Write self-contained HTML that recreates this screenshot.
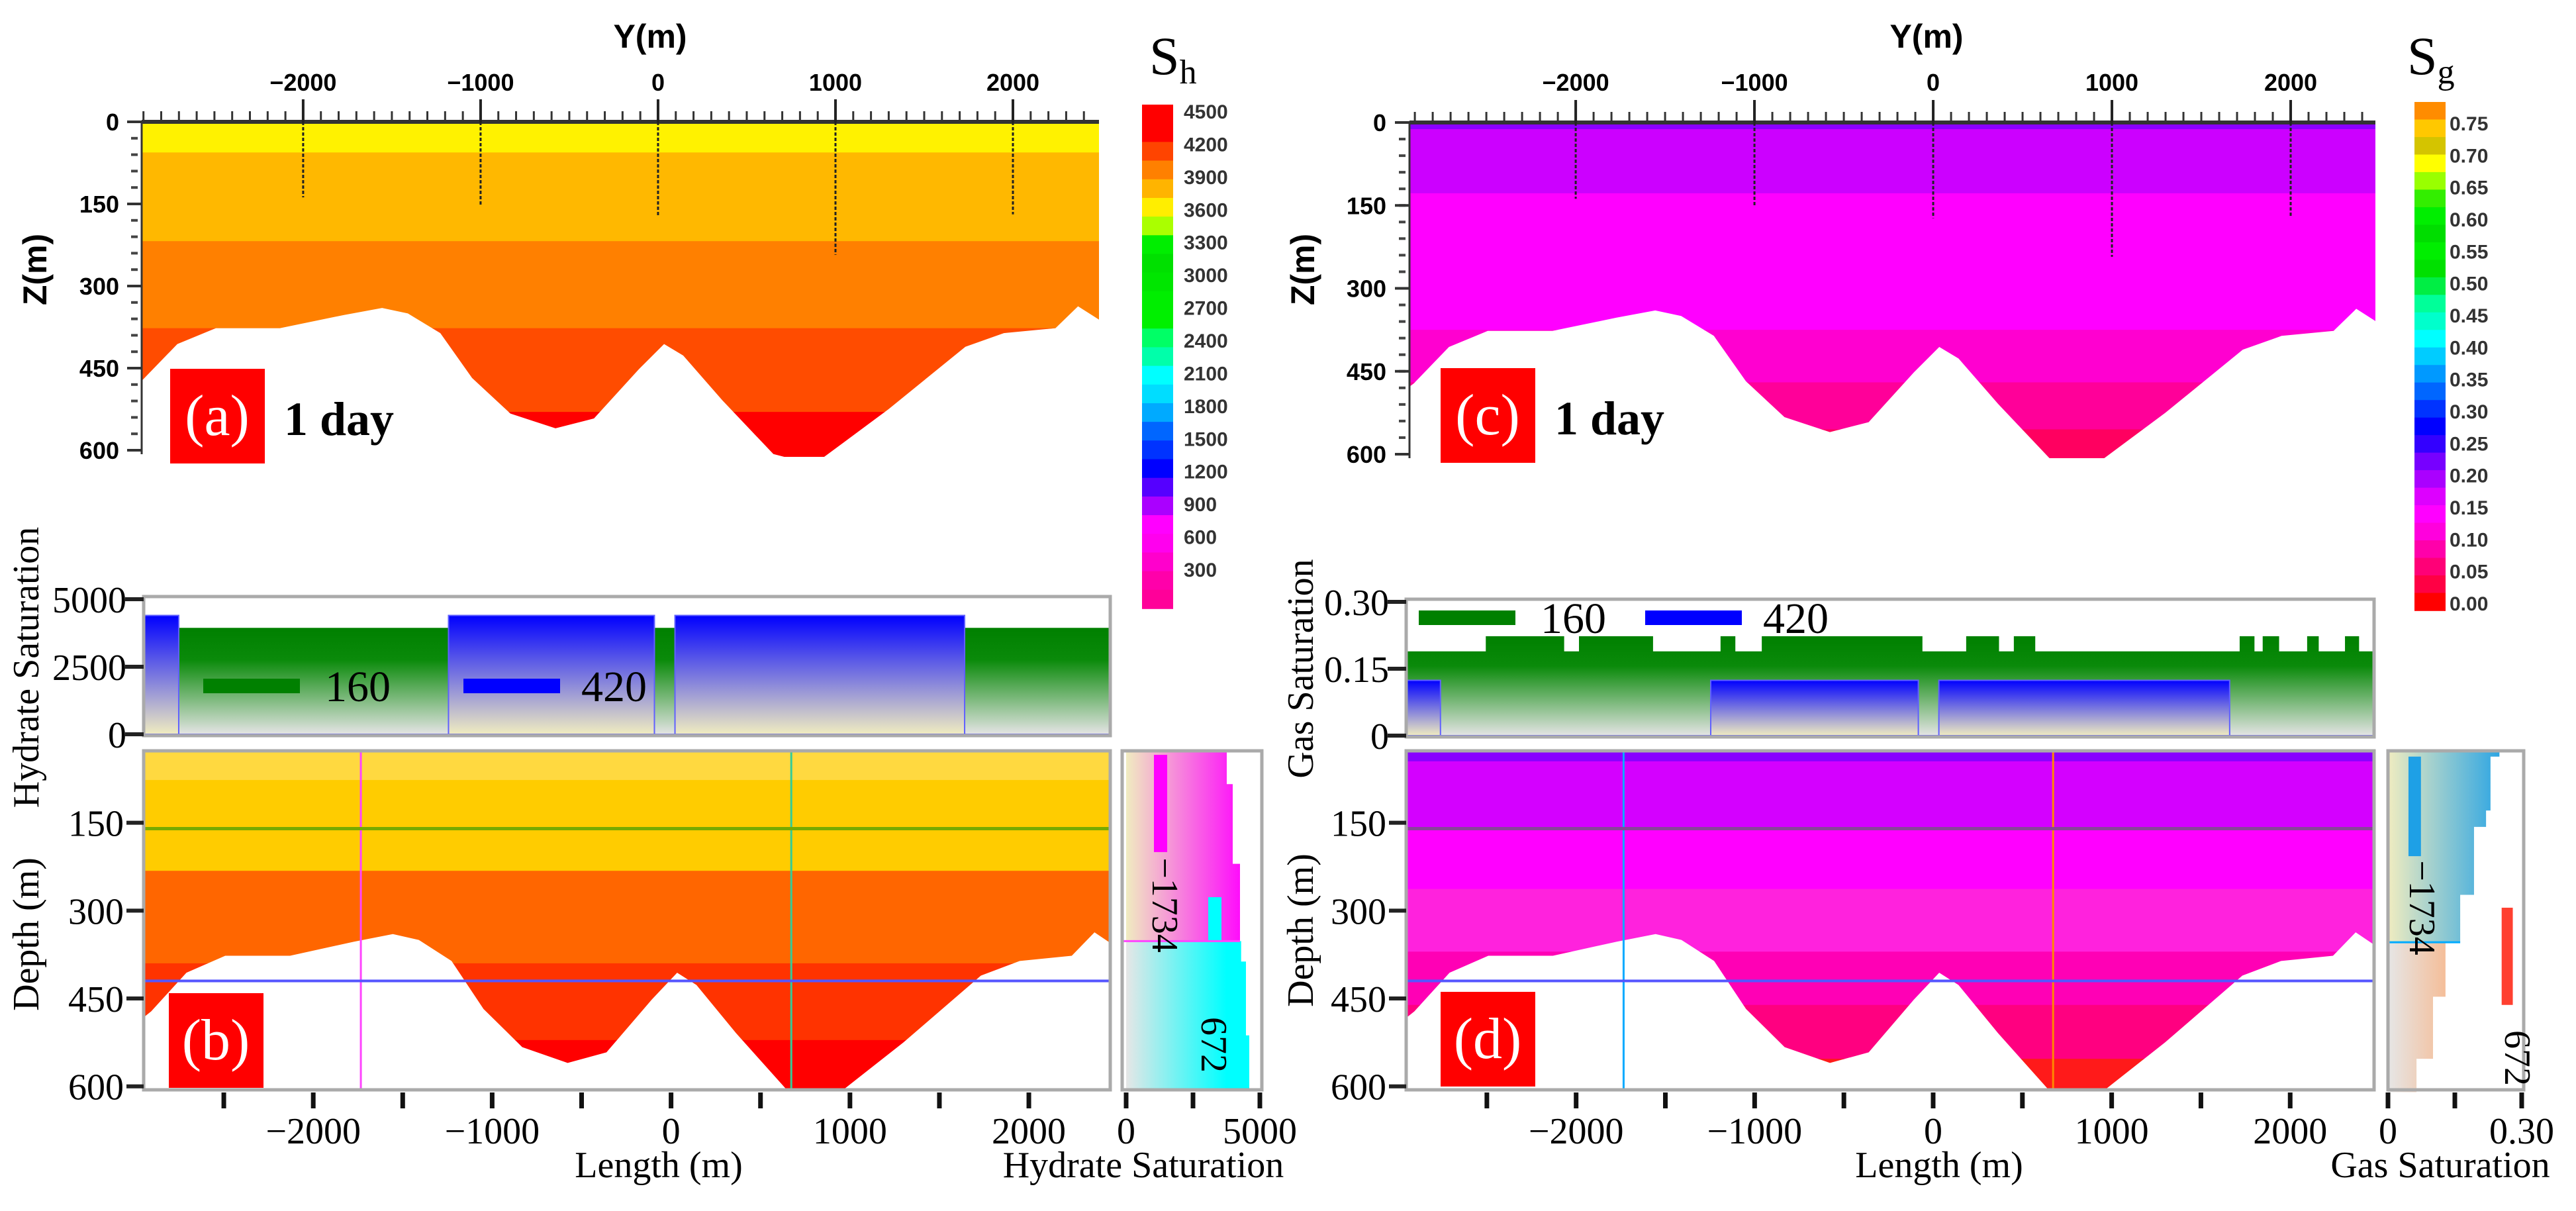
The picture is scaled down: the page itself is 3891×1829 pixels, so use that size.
<!DOCTYPE html>
<html><head><meta charset="utf-8"><style>
html,body{margin:0;padding:0;background:#fff;}
svg{display:block;}
.sb{font-family:"Liberation Sans",sans-serif;font-weight:bold;}
.sf{font-family:"Liberation Serif",serif;}
</style></head><body>
<svg id="fig" width="3891" height="1829" viewBox="0 0 3891 1829" xmlns="http://www.w3.org/2000/svg">
<defs id="defs">
 <linearGradient id="gGreen" x1="0" y1="0" x2="0" y2="1"><stop offset="0" stop-color="#008000"/><stop offset="0.3" stop-color="#0a8a0a"/><stop offset="1" stop-color="#e4e4e4"/></linearGradient>
 <linearGradient id="gBlue" x1="0" y1="0" x2="0" y2="1"><stop offset="0" stop-color="#0000ff"/><stop offset="1" stop-color="#f0ecc0"/></linearGradient>
</defs>
<text class="sb" x="982" y="72" font-size="50" text-anchor="middle">Y(m)</text>
<text class="sb" transform="translate(70,407) rotate(-90)" font-size="50" text-anchor="middle">Z(m)</text>
<text class="sf" x="1736" y="112" font-size="82">S<tspan font-size="52" dy="14">h</tspan></text>
<text class="sb" x="2910" y="72" font-size="50" text-anchor="middle">Y(m)</text>
<text class="sb" transform="translate(1985,407) rotate(-90)" font-size="50" text-anchor="middle">Z(m)</text>
<text class="sf" x="3636" y="112" font-size="82">S<tspan font-size="52" dy="14">g</tspan></text>
<text class="sf" transform="translate(58,1008) rotate(-90)" font-size="56" text-anchor="middle">Hydrate Saturation</text>
<text class="sf" transform="translate(58,1411) rotate(-90)" font-size="56" text-anchor="middle">Depth (m)</text>
<text class="sf" x="995" y="1778" font-size="56" text-anchor="middle">Length (m)</text>
<text class="sf" x="1727" y="1778" font-size="56" text-anchor="middle">Hydrate Saturation</text>
<text class="sf" transform="translate(1983,1010) rotate(-90)" font-size="56" text-anchor="middle">Gas Saturation</text>
<text class="sf" transform="translate(1983,1405) rotate(-90)" font-size="56" text-anchor="middle">Depth (m)</text>
<text class="sf" x="2929" y="1778" font-size="56" text-anchor="middle">Length (m)</text>
<text class="sf" x="3686" y="1778" font-size="56" text-anchor="middle">Gas Saturation</text>
</svg>
<script>
// ---------- data ----------
const terrainY = [-2980,-2906,-2709,-2492,-2130,-1772,-1555,-1410,-1227,-1048,-832,-578,-361,-108,34,142,363,650,795,937,1299,1732,1949,2240,2367,2527];
const terrainDepth = [490,472,406,377,377,353,340,350,386,468,533,560,542,452,406,427,509,607,619,612,525,411,386,377,337,370];
const wellY = [-2000,-1000,0,1000,2000];
const wellDepth = [138,152,173,243,169];
const topTicks = [-2000,-1000,0,1000,2000];
const depthTicks = [0,150,300,450,600];
const depthTicksB = [150,300,450,600];
const lengthTicks = [-2500,-2000,-1500,-1000,-500,0,500,1000,1500,2000];
const lengthLabels = [-2000,-1000,0,1000,2000];
const aBounds = [-50,56,218,377,530,700];
const bBounds = [-50,77,232,390,521,700];
const cBounds = [-50,12,128,375,470,555,700];
const dBounds = [-50,45,160,263,370,461,553,700];
const shLabels = [4500,4200,3900,3600,3300,3000,2700,2400,2100,1800,1500,1200,900,600,300];
const sgLabels = ["0.75","0.70","0.65","0.60","0.55","0.50","0.45","0.40","0.35","0.30","0.25","0.20","0.15","0.10","0.05","0.00"];
const hyd160X = [-2948,2455];
const hyd160V = [3940,3940];
const hyd420X = [-2948,-2752,-2752,-1244,-1244,-93,-93,22,22,1641,1641,2455];
const hyd420V = [4400,4400,0,0,4400,4400,0,0,4400,4400,0,0];
const gas160X = [-2952,-2506,-2506,-2067,-2067,-1984,-1984,-1569,-1569,-1191,-1191,-1108,-1108,-960,-960,-60,-60,185,185,369,369,452,452,572,572,1717,1717,1800,1800,1846,1846,1938,1938,2095,2095,2160,2160,2307,2307,2386,2386,2470];
const gas160V = [0.189,0.189,0.223,0.223,0.189,0.189,0.223,0.223,0.189,0.189,0.223,0.223,0.189,0.189,0.223,0.223,0.189,0.189,0.223,0.223,0.189,0.189,0.223,0.223,0.189,0.189,0.223,0.223,0.189,0.189,0.223,0.223,0.189,0.189,0.223,0.223,0.189,0.189,0.223,0.223,0.189,0.189];
const gas420X = [-2952,-2760,-2760,-1246,-1246,-83,-83,32,32,1661,1661,2470];
const gas420V = [0.124,0.124,0,0,0.124,0.124,0,0,0.124,0.124,0,0];
const hydM1734Depth = [27,84,220,352];
const hydM1734Val = [3762,3985,4257];
const hyd672Depth = [352,387,513,606];
const hyd672Val = [4300,4480,4604];
const gasM1734Depth = [27,37,129,157,273,354];
const gasM1734Val = [0.25,0.23,0.22,0.193,0.162];
const gas672Depth = [354,447,553,610];
const gas672Val = [0.129,0.101,0.064];

// ---------- helpers ----------
const NS="http://www.w3.org/2000/svg";
const svg=document.getElementById('fig');
const defs=document.getElementById('defs');
function mk(tag,attrs,parent){const e=document.createElementNS(NS,tag);for(const k in attrs)e.setAttribute(k,attrs[k]);(parent||svg).appendChild(e);return e;}
function lin(p0,p1,d0,d1){return v=>p0+(v-d0)/(d1-d0)*(p1-p0);}
function txt(x,y,s,size,cls,anchor,parent){const t=mk('text',{x:x,y:y,'font-size':size,class:cls,'text-anchor':anchor||'middle'},parent);t.textContent=s;return t;}
function hgrad(id,x0,x1,c0,c1){const g=mk('linearGradient',{id:id,gradientUnits:'userSpaceOnUse',x1:x0,y1:0,x2:x1,y2:0},defs);mk('stop',{offset:0,'stop-color':c0},g);mk('stop',{offset:1,'stop-color':c1},g);}

function contour(id,X,D,x0,x1,top,bottom,domMin,domMax,bounds,colors){
  const cp=mk('clipPath',{id:'clip'+id},defs);
  let pts=[[X(domMin)-20,top],[X(domMax)+20,top]];
  for(let i=terrainY.length-1;i>=0;i--)pts.push([X(terrainY[i]),D(terrainDepth[i])]);
  mk('polygon',{points:pts.map(p=>p.join(',')).join(' ')},cp);
  const cp2=mk('clipPath',{id:'rect'+id},defs);
  mk('rect',{x:x0,y:top,width:x1-x0,height:bottom-top},cp2);
  const outer=mk('g',{'clip-path':'url(#rect'+id+')'});
  
  
  const g=mk('g',{'clip-path':'url(#clip'+id+')'},outer);
  for(let i=0;i<colors.length;i++){
    const r=mk('rect',{x:x0,y:D(bounds[i]),width:x1-x0,height:D(bounds[i+1])-D(bounds[i])+1,fill:colors[i]},g);
    
    
  }
  return outer;
}
function colorbar(x,y0,y1,cols,labels,lblX,l0,l1,name){
  const h=(y1-y0)/cols.length;
  cols.forEach((c,i)=>{const r=mk('rect',{x:x,y:y0+i*h,width:47,height:h+0.8,fill:c});
    
    });
  const L=lin(l0,l1,0,labels.length-1);
  labels.forEach((s,i)=>{const t=txt(lblX,L(i)+10,s,30,'sb','start');t.setAttribute('fill','#333');
    
    });
}
function topAxis(X,D,x0,x1,axisY,domMin,domMax,lblRight,name){
  mk('line',{x1:x0,y1:axisY,x2:x1,y2:axisY,stroke:'#333','stroke-width':6});
  for(let v=-2900;v<=domMax;v+=100){const px=X(v);if(px<x0)continue;
    const l=mk('line',{x1:px,y1:axisY-16,x2:px,y2:axisY,stroke:'#333','stroke-width':3});
    
    }
  topTicks.forEach(v=>{const l=mk('line',{x1:X(v),y1:axisY-34,x2:X(v),y2:axisY,stroke:'#222','stroke-width':4});
    
    
    const t=txt(X(v),137,String(v).replace('-','\u2212'),36,'sb','middle');
    
    });
  wellY.forEach((v,i)=>{const l=mk('line',{x1:X(v),y1:axisY,x2:X(v),y2:D(wellDepth[i]),stroke:'#222','stroke-width':3,'stroke-dasharray':'5,3'});
    
    });
  mk('line',{x1:x0,y1:axisY,x2:x0,y2:D(600)+6,stroke:'#333','stroke-width':3});
  for(let d=0;d<=600;d+=30){const l=mk('line',{x1:x0-16,y1:D(d),x2:x0-6,y2:D(d),stroke:'#444','stroke-width':4});
    
    }
  depthTicks.forEach(d=>{mk('line',{x1:x0-22,y1:D(d),x2:x0,y2:D(d),stroke:'#333','stroke-width':4});
    const t=txt(lblRight,D(d)+13,String(d),36,'sb','end');
    
    });
}
function labelBox(x,y,letter,withDay){
  const r=mk('rect',{x:x,y:y,width:143,height:143,fill:'#ff0000'});
  
  
  const t=txt(x+71,y+100,'('+letter+')',88,'sf','middle');t.setAttribute('fill','#fff');
  
  
  if(withDay){const d=txt(x+172,y+100,'1 day',72,'sf','start');d.setAttribute('font-weight','bold');
    
    }
}
function stepArea(X,V,xs,vs,fill,stroke,name){
  let pts=[[X(xs[0]),V(0)]];
  xs.forEach((x,i)=>pts.push([X(x),V(vs[i])]));
  pts.push([X(xs[xs.length-1]),V(0)]);
  const p=mk('polygon',{points:pts.map(p=>p.join(',')).join(' '),fill:fill,stroke:stroke,'stroke-width':2});
  
  
}
function profile(V,D,depths,vals,fill,name){
  let pts=[[V(0),D(depths[0])]];
  vals.forEach((v,i)=>{pts.push([V(v),D(depths[i])]);pts.push([V(v),D(depths[i+1])]);});
  pts.push([V(0),D(depths[depths.length-1])]);
  const p=mk('polygon',{points:pts.map(p=>p.join(',')).join(' '),fill:fill});
  
  
}
function frame(x,y,w,h,name){const r=mk('rect',{x:x,y:y,width:w,height:h,fill:'none',stroke:'#aaa','stroke-width':5});
  
  }
function hline(x0,x1,y,c,w,name){const l=mk('line',{x1:x0,y1:y,x2:x1,y2:y,stroke:c,'stroke-width':w});
  
  }
function vline(x,y0,y1,c,w,name){const l=mk('line',{x1:x,y1:y0,x2:x,y2:y1,stroke:c,'stroke-width':w});
  
  }

{const X=lin(214,1660,-2910,2485),D=lin(184,680,0,600);
 contour('a',X,D,214,1660,184,690,-2910,2485,aBounds,['#FFF200','#FFB800','#FF8000','#FF4C00','#FF0000']);
 topAxis(X,D,214,1660,184,-2910,2485,180,'a');
 labelBox(257,557,'a',true);}
colorbar(1725,158,919,['#FF0000','#FF0000','#FF4400','#FF8000','#FFB400','#FFEE00','#AAFF00','#00EE00','#00E000','#00E600','#00EE00','#00F000','#00FF66','#00FFAA','#00FFFF','#00DDFF','#00AAFF','#0066FF','#0033FF','#0000FF','#5500FF','#AA00FF','#FF00FF','#FF00EE','#FF00CC','#FF00AA','#FF0099'],shLabels,1788,169,861,'sh-colorbar');
{const X=lin(2129,3588,-2930,2474),D=lin(185,686,0,600);
 contour('c',X,D,2129,3588,185,692,-2930,2474,cBounds,['#8A00FF','#CC00FF','#FF00FF','#FF00D0','#FF0099','#FF0060']);
 topAxis(X,D,2129,3588,185,-2930,2474,2094,'c');
 labelBox(2176,556,'c',true);}
colorbar(3647,154,922,['#FF8C00','#FFC800','#D4C400','#FFFF00','#99FF00','#33EE00','#00EE00','#00DD00','#00EE00','#00E000','#00EE44','#00FF99','#00FFCC','#00FFFF','#00CCFF','#0099FF','#0066FF','#0033FF','#0000FF','#3300FF','#7700FF','#AA00FF','#DD00FF','#FF00FF','#FF00DD','#FF00AA','#FF0077','#FF0044','#FF0000'],sgLabels,3700,187,912,'sg-colorbar');

function bottomSet(o){
  const X=lin(o.x0,o.x1,o.dMin,o.dMax),D=lin(1110,1110+600*0.8845,0,600);
  const V=lin(o.lv0,o.lv1,0,o.vmax);
  mk('rect',{x:o.x0,y:o.lv1,width:o.x1-o.x0,height:o.lv0-o.lv1,fill:'#fff'});
  stepArea(X,V,o.g160X,o.g160V,'url(#gGreen)','none','series-160-area');
  stepArea(X,V,o.b420X,o.b420V,'url(#gBlue)','#6060ff','series-420-area');
  frame(o.x0,o.lv1-4,o.x1-o.x0,o.lv0-o.lv1+6,'line-panel-frame');
  o.vTicks.forEach((v,i)=>{mk('line',{x1:o.x0-28,y1:V(v),x2:o.x0,y2:V(v),stroke:'#222','stroke-width':6});
    const t=txt(o.x0-26,V(v)+20,o.vLbl[i],56,'sf','end');
    
    });
  const lg=o.legend;
  mk('rect',{x:lg[0],y:lg[1]-10,width:146,height:22,fill:'#008000'});
  const t1=txt(lg[0]+184,lg[1]+24,'160',66,'sf','start');
  
  
  mk('rect',{x:lg[2],y:lg[1]-10,width:146,height:22,fill:'#0000ff'});
  const t2=txt(lg[2]+178,lg[1]+24,'420',66,'sf','start');
  
  
  contour(o.id,X,D,o.x0,o.x1,1134,1646,o.dMin,o.dMax,o.bounds,o.colors);
  vline(X(-1734),1134,1646,o.c1734,3,'profile-line-minus1734');
  vline(X(672),1134,1646,o.c672,3,'profile-line-672');
  hline(o.x0,o.x1,D(160),o.c160,5,'horizontal-line-160');
  hline(o.x0,o.x1,D(420),'#5555ff',4,'horizontal-line-420');
  frame(o.x0,1134,o.x1-o.x0,512,'main-plot-frame');
  depthTicksB.forEach(d=>{mk('line',{x1:o.x0-26,y1:D(d),x2:o.x0,y2:D(d),stroke:'#222','stroke-width':6});
    const t=txt(o.x0-30,D(d)+20,String(d),56,'sf','end');
    
    });
  lengthTicks.forEach(v=>{mk('line',{x1:X(v),y1:1650,x2:X(v),y2:1674,stroke:'#111','stroke-width':7});});
  lengthLabels.forEach(v=>{const t=txt(X(v),1727,String(v).replace('-','\u2212'),56,'sf','middle');
    
    });
  labelBox(o.box[0],o.box[1],o.id,false);
  const S=lin(o.s0,o.s1,0,o.smax);
  mk('rect',{x:o.sx0,y:1134,width:o.sx1-o.sx0,height:512,fill:'#fff'});
  hgrad('sg1'+o.id,S(0),S(o.smax*0.9),o.sg1[0],o.sg1[1]);
  hgrad('sg2'+o.id,S(0),S(o.smax*0.75),o.sg2[0],o.sg2[1]);
  profile(S,D,o.pM,o.pMV,'url(#sg1'+o.id+')','profile-minus1734-area');
  profile(S,D,o.p6,o.p6V,'url(#sg2'+o.id+')','profile-672-area');
  o.extra.forEach(e=>{const r=mk('rect',{x:S(e[0]),y:D(e[2]),width:S(e[1])-S(e[0]),height:D(e[3])-D(e[2]),fill:e[4]});
    
    });
  hline(o.sx0,S(o.pMV[o.pMV.length-1]),D(o.pM[o.pM.length-1]),o.c1734,3,'profile-boundary');
  frame(o.sx0,1134,o.sx1-o.sx0,512,'side-plot-frame');
  o.sTicks.forEach((v,i)=>{mk('line',{x1:S(v),y1:1650,x2:S(v),y2:1674,stroke:'#111','stroke-width':7});
    if(o.sLbl[i]!==''){const t=txt(S(v),1727,o.sLbl[i],56,'sf','middle');
    
    }});
  const a=txt(0,0,'\u22121734',56,'sf','middle');a.setAttribute('transform','translate('+o.lbl1734[0]+','+o.lbl1734[1]+') rotate(90)');
  
  
  const b=txt(0,0,'672',56,'sf','middle');b.setAttribute('transform','translate('+o.lbl672[0]+','+o.lbl672[1]+') rotate(90)');
  
  
}
bottomSet({id:'b',x0:217,x1:1677,dMin:-2948,dMax:2455,lv0:1109,lv1:905,vmax:5000,
  g160X:hyd160X,g160V:hyd160V,b420X:hyd420X,b420V:hyd420V,vTicks:[0,2500,5000],vLbl:['0','2500','5000'],
  legend:[307,1035,700],bounds:bBounds,colors:['#FFD940','#FFCC00','#FF6600','#FF3300','#FF0000'],
  c1734:'#ff44ff',c672:'#33cc99',c160:'#77aa00',box:[255,1500],
  s0:1701,s1:1903,smax:5000,sx0:1695,sx1:1906,sg1:['#f0ecc0','#ff00ff'],sg2:['#e6e6e6','#00ffff'],
  pM:hydM1734Depth,pMV:hydM1734Val,p6:hyd672Depth,p6V:hyd672Val,
  extra:[[1040,1535,34,200,'#ff00ff'],[3070,3564,277,352,'#00ffff']],
  sTicks:[0,2500,5000],sLbl:['0','','5000'],lbl1734:[1741,1367],lbl672:[1815,1578]});
bottomSet({id:'d',x0:2124,x1:3586,dMin:-2952,dMax:2470,lv0:1111,lv1:909,vmax:0.30,
  g160X:gas160X,g160V:gas160V,b420X:gas420X,b420V:gas420V,vTicks:[0,0.15,0.30],vLbl:['0','0.15','0.30'],
  legend:[2143,932,2485],bounds:dBounds,colors:['#8800FF','#D400FF','#FF00FF','#FF22DD','#FF00B5','#FF0080','#FF1A1A'],
  c1734:'#00aaff',c672:'#ff8800',c160:'#884499',box:[2176,1498],
  s0:3607,s1:3809,smax:0.30,sx0:3607,sx1:3812,sg1:['#f0ecc0','#1ea0e6'],sg2:['#e6e6e6','#ffa060'],
  pM:gasM1734Depth,pMV:gasM1734Val,p6:gas672Depth,p6V:gas672Val,
  extra:[[0.255,0.28,295,461,'#ff4030'],[0.046,0.074,37,207,'#1ea0e6']],
  sTicks:[0,0.15,0.30],sLbl:['0','','0.30'],lbl1734:[3640,1371],lbl672:[3784,1598]});
</script>
</body></html>
